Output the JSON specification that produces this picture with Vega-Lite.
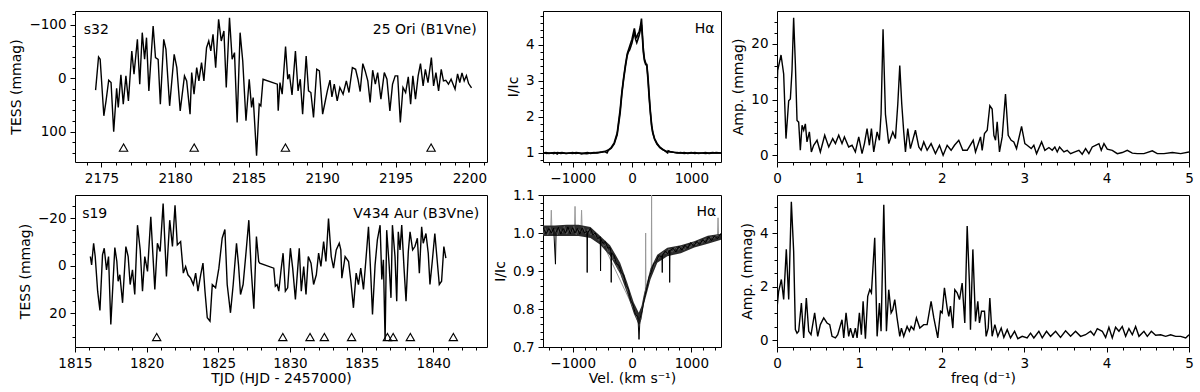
{
"$schema": "https://vega.github.io/schema/vega-lite/v6.json",
"background": "white",
"padding": {"left": 9, "top": 6, "right": 5, "bottom": 5},
"autosize": {"type": "pad"},
"columns": 3,
"spacing": {"row": 33, "column": 56},
"bounds": "flush",
"align": "each",
"config": {
  "font": "DejaVu Sans",
  "view": {"stroke": "black", "strokeWidth": 1},
  "axis": {"domain": false, "grid": false, "tickColor": "black", "tickWidth": 1, "labelColor": "black", "titleColor": "black", "labelFontSize": 13.5, "titleFontSize": 14, "titleFontWeight": "normal", "labelPadding": 4, "labelOverlap": false, "labelFlush": false, "labelBound": false, "titlePadding": 5},
  "axisX": {"titlePadding": 2},
  "text": {"font": "DejaVu Sans", "fontSize": 14, "color": "black"}
},
"datasets": {
  "lc1": [
    {"x":2174.60,"y":22.4},{"x":2174.80,"y":-39.9},{"x":2174.91,"y":-35.5},{"x":2175.16,"y":70.4},{"x":2175.31,"y":42.4},{"x":2175.49,"y":3.7},{"x":2175.65,"y":8.1},{"x":2175.83,"y":100.3},{"x":2176.03,"y":18.7},{"x":2176.14,"y":54.8},{"x":2176.32,"y":-6.2},{"x":2176.48,"y":48.6},{"x":2176.66,"y":-4.4},{"x":2176.83,"y":42.4},{"x":2177.06,"y":-51.1},{"x":2177.21,"y":-7.5},{"x":2177.44,"y":-72.9},{"x":2177.60,"y":11.2},{"x":2177.77,"y":-85.4},{"x":2177.93,"y":-35.5},{"x":2178.06,"y":-76.0},{"x":2178.22,"y":23.7},{"x":2178.51,"y":-97.8},{"x":2178.67,"y":-38.6},{"x":2178.85,"y":-35.5},{"x":2179.00,"y":48.6},{"x":2179.23,"y":-72.9},{"x":2179.38,"y":-54.2},{"x":2179.63,"y":51.7},{"x":2179.94,"y":-44.9},{"x":2180.12,"y":-19.9},{"x":2180.35,"y":61.1},{"x":2180.64,"y":-4.4},{"x":2180.79,"y":5.0},{"x":2181.02,"y":67.3},{"x":2181.13,"y":-10.6},{"x":2181.29,"y":29.9},{"x":2181.47,"y":-19.9},{"x":2181.62,"y":5.0},{"x":2181.80,"y":-29.3},{"x":2181.96,"y":5.0},{"x":2182.14,"y":-57.3},{"x":2182.29,"y":-69.8},{"x":2182.43,"y":-51.1},{"x":2182.58,"y":-82.2},{"x":2182.76,"y":-19.9},{"x":2182.96,"y":-110.3},{"x":2183.14,"y":-69.8},{"x":2183.32,"y":-88.5},{"x":2183.48,"y":17.4},{"x":2183.70,"y":-113.4},{"x":2183.88,"y":-35.5},{"x":2184.04,"y":-48.0},{"x":2184.22,"y":82.9},{"x":2184.42,"y":-85.4},{"x":2184.60,"y":-32.4},{"x":2184.82,"y":79.8},{"x":2185.04,"y":1.9},{"x":2185.20,"y":54.8},{"x":2185.31,"y":36.1},{"x":2185.54,"y":145.2},{"x":2185.72,"y":48.6},{"x":2185.83,"y":51.7},{"x":2185.98,"y":1.9},{"x":2186.95,"y":11.2},{"x":2187.01,"y":61.1},{"x":2187.13,"y":8.1},{"x":2187.28,"y":29.9},{"x":2187.51,"y":-59.2},{"x":2187.66,"y":1.9},{"x":2187.77,"y":-7.5},{"x":2187.95,"y":31.2},{"x":2188.18,"y":-51.1},{"x":2188.36,"y":23.7},{"x":2188.51,"y":1.9},{"x":2188.67,"y":67.3},{"x":2188.91,"y":-41.7},{"x":2189.07,"y":23.7},{"x":2189.23,"y":26.8},{"x":2189.41,"y":73.5},{"x":2189.63,"y":-16.8},{"x":2189.81,"y":-13.7},{"x":2190.03,"y":67.3},{"x":2190.19,"y":45.5},{"x":2190.35,"y":23.7},{"x":2190.53,"y":3.7},{"x":2190.66,"y":34.9},{"x":2190.82,"y":11.2},{"x":2191.02,"y":42.4},{"x":2191.20,"y":17.4},{"x":2191.42,"y":29.9},{"x":2191.64,"y":5.0},{"x":2191.82,"y":26.8},{"x":2192.05,"y":-19.9},{"x":2192.27,"y":-16.8},{"x":2192.43,"y":1.9},{"x":2192.58,"y":24.9},{"x":2192.76,"y":-27.4},{"x":2192.92,"y":-13.7},{"x":2193.10,"y":5.0},{"x":2193.26,"y":45.5},{"x":2193.43,"y":-15.0},{"x":2193.61,"y":11.2},{"x":2193.77,"y":-10.6},{"x":2193.99,"y":39.3},{"x":2194.22,"y":-10.6},{"x":2194.40,"y":1.9},{"x":2194.60,"y":61.1},{"x":2194.78,"y":11.2},{"x":2194.96,"y":-4.4},{"x":2195.13,"y":-4.4},{"x":2195.31,"y":82.9},{"x":2195.49,"y":17.4},{"x":2195.67,"y":26.8},{"x":2195.85,"y":-2.5},{"x":2196.01,"y":48.6},{"x":2196.16,"y":-4.4},{"x":2196.34,"y":39.3},{"x":2196.52,"y":-4.4},{"x":2196.68,"y":-27.4},{"x":2196.86,"y":14.3},{"x":2197.01,"y":-16.8},{"x":2197.19,"y":8.1},{"x":2197.42,"y":-38.6},{"x":2197.57,"y":14.3},{"x":2197.73,"y":-10.6},{"x":2197.91,"y":23.7},{"x":2198.09,"y":-16.8},{"x":2198.24,"y":5.0},{"x":2198.40,"y":3.7},{"x":2198.58,"y":11.2},{"x":2198.76,"y":1.9},{"x":2199.03,"y":20.6},{"x":2199.2,"y":-8},{"x":2199.35,"y":8},{"x":2199.5,"y":-10},{"x":2199.65,"y":5},{"x":2199.8,"y":-5},{"x":2199.95,"y":10},{"x":2200.15,"y":18}
  ],
  "tri1": [{"x":2176.5,"y":130},{"x":2181.3,"y":130},{"x":2187.5,"y":130},{"x":2197.4,"y":130}],
  "lc2": [
    {"x":1816.07,"y":-3.9},{"x":1816.16,"y":-0.4},{"x":1816.30,"y":-9.5},{"x":1816.41,"y":-3.9},{"x":1816.58,"y":10.7},{"x":1816.74,"y":18.8},{"x":1816.92,"y":-4.6},{"x":1817.04,"y":-7.4},{"x":1817.20,"y":1.7},{"x":1817.34,"y":-3.9},{"x":1817.50,"y":24.7},{"x":1817.78,"y":-7.7},{"x":1817.92,"y":-1.8},{"x":1818.01,"y":6.5},{"x":1818.13,"y":3.8},{"x":1818.32,"y":15.6},{"x":1818.55,"y":-8.1},{"x":1818.71,"y":-3.9},{"x":1818.85,"y":7.9},{"x":1819.01,"y":1.7},{"x":1819.17,"y":12.1},{"x":1819.36,"y":-17.1},{"x":1819.55,"y":-6.7},{"x":1819.71,"y":10.7},{"x":1819.87,"y":-3.9},{"x":1820.06,"y":2.4},{"x":1820.29,"y":-20.6},{"x":1820.57,"y":10.0},{"x":1820.75,"y":-9.5},{"x":1820.94,"y":-6.0},{"x":1821.15,"y":-26.2},{"x":1821.38,"y":4.5},{"x":1821.61,"y":-19.2},{"x":1821.80,"y":-8.1},{"x":1821.98,"y":-25.5},{"x":1822.14,"y":-8.8},{"x":1822.37,"y":-10.2},{"x":1822.56,"y":3.1},{"x":1822.72,"y":0.3},{"x":1822.88,"y":3.8},{"x":1823.07,"y":5.2},{"x":1823.26,"y":7.9},{"x":1823.42,"y":3.1},{"x":1823.58,"y":10.7},{"x":1823.77,"y":3.8},{"x":1823.93,"y":-1.1},{"x":1824.07,"y":10.7},{"x":1824.23,"y":21.9},{"x":1824.42,"y":23.3},{"x":1824.58,"y":7.9},{"x":1824.81,"y":9.3},{"x":1825.04,"y":1.0},{"x":1825.27,"y":-11.6},{"x":1825.46,"y":-15.3},{"x":1825.62,"y":7.9},{"x":1825.85,"y":19.8},{"x":1826.04,"y":7.9},{"x":1826.27,"y":-9.5},{"x":1826.41,"y":-0.4},{"x":1826.55,"y":12.1},{"x":1826.73,"y":7.9},{"x":1826.94,"y":-6.0},{"x":1827.13,"y":-19.2},{"x":1827.29,"y":1.0},{"x":1827.48,"y":18.1},{"x":1827.66,"y":-12.3},{"x":1827.82,"y":-1.8},{"x":1827.89,"y":-1.1},{"x":1828.87,"y":1.0},{"x":1828.98,"y":8.6},{"x":1829.10,"y":7.9},{"x":1829.22,"y":10.7},{"x":1829.38,"y":1.7},{"x":1829.52,"y":-5.3},{"x":1829.68,"y":10.7},{"x":1829.84,"y":9.3},{"x":1830.03,"y":-7.4},{"x":1830.19,"y":1.0},{"x":1830.38,"y":14.2},{"x":1830.56,"y":-0.4},{"x":1830.65,"y":-7.4},{"x":1830.79,"y":10.7},{"x":1830.96,"y":0.3},{"x":1831.12,"y":12.1},{"x":1831.28,"y":-3.9},{"x":1831.47,"y":-1.1},{"x":1831.65,"y":7.9},{"x":1831.84,"y":3.8},{"x":1832.00,"y":-5.3},{"x":1832.16,"y":0.3},{"x":1832.35,"y":-10.2},{"x":1832.51,"y":-1.8},{"x":1832.69,"y":-19.9},{"x":1832.88,"y":-3.9},{"x":1833.04,"y":1.0},{"x":1833.23,"y":-6.7},{"x":1833.44,"y":-9.5},{"x":1833.55,"y":-6.7},{"x":1833.62,"y":5.2},{"x":1833.85,"y":-3.9},{"x":1834.09,"y":-1.8},{"x":1834.25,"y":6.5},{"x":1834.43,"y":17.7},{"x":1834.62,"y":3.1},{"x":1834.78,"y":7.9},{"x":1834.94,"y":1.0},{"x":1835.13,"y":10.0},{"x":1835.29,"y":-1.8},{"x":1835.48,"y":-16.4},{"x":1835.64,"y":3.8},{"x":1835.76,"y":20.5},{"x":1835.94,"y":-0.4},{"x":1836.10,"y":-10.9},{"x":1836.29,"y":-17.1},{"x":1836.41,"y":5.8},{"x":1836.52,"y":-2.5},{"x":1836.64,"y":31.6},{"x":1836.75,"y":-15.0},{"x":1836.92,"y":-0.4},{"x":1837.05,"y":13.5},{"x":1837.15,"y":-17.1},{"x":1837.33,"y":-3.9},{"x":1837.45,"y":14.9},{"x":1837.56,"y":-14.3},{"x":1837.68,"y":-6.7},{"x":1837.80,"y":-17.1},{"x":1837.96,"y":1.0},{"x":1838.10,"y":14.9},{"x":1838.26,"y":-6.0},{"x":1838.38,"y":-14.3},{"x":1838.56,"y":-6.7},{"x":1838.72,"y":-8.1},{"x":1838.89,"y":-11.6},{"x":1839.03,"y":3.1},{"x":1839.19,"y":-16.4},{"x":1839.30,"y":-9.5},{"x":1839.49,"y":-13.6},{"x":1839.65,"y":-5.3},{"x":1839.77,"y":7.9},{"x":1839.93,"y":-1.8},{"x":1840.11,"y":-13.6},{"x":1840.28,"y":-1.8},{"x":1840.42,"y":7.9},{"x":1840.58,"y":6.5},{"x":1840.74,"y":-8.1},{"x":1840.88,"y":-3.2}
  ],
  "tri2": [{"x":1820.7,"y":30},{"x":1829.5,"y":30},{"x":1831.4,"y":30},{"x":1832.4,"y":30},{"x":1834.3,"y":30},{"x":1836.8,"y":30},{"x":1837.2,"y":30},{"x":1838.4,"y":30},{"x":1841.4,"y":30}],
  "em": [
    {"s":"a","x":-1500,"y":1.0},{"s":"a","x":-1450,"y":1.01},{"s":"a","x":-1400,"y":0.99},{"s":"a","x":-1350,"y":1.0},{"s":"a","x":-1320,"y":0.98},{"s":"a","x":-1300,"y":1.0},{"s":"a","x":-1250,"y":1.01},{"s":"a","x":-1200,"y":0.99},{"s":"a","x":-1150,"y":1.0},{"s":"a","x":-1100,"y":0.985},{"s":"a","x":-1050,"y":1.0},{"s":"a","x":-1000,"y":1.01},{"s":"a","x":-950,"y":0.99},{"s":"a","x":-900,"y":1.0},{"s":"a","x":-850,"y":0.975},{"s":"a","x":-800,"y":1.0},{"s":"a","x":-750,"y":1.01},{"s":"a","x":-700,"y":0.99},{"s":"a","x":-650,"y":1.0},{"s":"a","x":-600,"y":1.01},{"s":"a","x":-550,"y":1.02},{"s":"a","x":-500,"y":1.03},{"s":"a","x":-450,"y":1.05},{"s":"a","x":-400,"y":1.08},{"s":"a","x":-350,"y":1.15},{"s":"a","x":-300,"y":1.28},{"s":"a","x":-250,"y":1.55},{"s":"a","x":-200,"y":2.2},{"s":"a","x":-170,"y":2.7},{"s":"a","x":-140,"y":3.1},{"s":"a","x":-110,"y":3.45},{"s":"a","x":-80,"y":3.75},{"s":"a","x":-50,"y":3.9},{"s":"a","x":-20,"y":4.05},{"s":"a","x":0,"y":4.15},{"s":"a","x":20,"y":4.3},{"s":"a","x":40,"y":4.45},{"s":"a","x":60,"y":4.25},{"s":"a","x":80,"y":4.2},{"s":"a","x":100,"y":4.3},{"s":"a","x":120,"y":4.35},{"s":"a","x":140,"y":4.5},{"s":"a","x":160,"y":4.72},{"s":"a","x":175,"y":4.3},{"s":"a","x":190,"y":3.9},{"s":"a","x":210,"y":3.6},{"s":"a","x":230,"y":3.5},{"s":"a","x":250,"y":3.4},{"s":"a","x":270,"y":3.0},{"s":"a","x":290,"y":2.5},{"s":"a","x":310,"y":2.1},{"s":"a","x":330,"y":1.75},{"s":"a","x":350,"y":1.55},{"s":"a","x":380,"y":1.38},{"s":"a","x":420,"y":1.25},{"s":"a","x":470,"y":1.15},{"s":"a","x":520,"y":1.09},{"s":"a","x":580,"y":1.05},{"s":"a","x":640,"y":1.03},{"s":"a","x":700,"y":1.02},{"s":"a","x":760,"y":1.0},{"s":"a","x":820,"y":1.01},{"s":"a","x":880,"y":0.99},{"s":"a","x":940,"y":1.0},{"s":"a","x":1000,"y":1.01},{"s":"a","x":1060,"y":0.99},{"s":"a","x":1120,"y":1.0},{"s":"a","x":1180,"y":1.0},{"s":"a","x":1240,"y":0.99},{"s":"a","x":1300,"y":1.0},{"s":"a","x":1360,"y":1.01},{"s":"a","x":1420,"y":1.0},{"s":"a","x":1500,"y":1.0},
    {"s":"b","x":-1500,"y":1.01},{"s":"b","x":-1440,"y":0.99},{"s":"b","x":-1380,"y":1.0},{"s":"b","x":-1300,"y":1.01},{"s":"b","x":-1260,"y":0.97},{"s":"b","x":-1240,"y":1.0},{"s":"b","x":-1180,"y":1.01},{"s":"b","x":-1120,"y":0.99},{"s":"b","x":-1060,"y":1.0},{"s":"b","x":-1000,"y":0.99},{"s":"b","x":-940,"y":1.01},{"s":"b","x":-880,"y":1.0},{"s":"b","x":-820,"y":0.99},{"s":"b","x":-760,"y":0.98},{"s":"b","x":-700,"y":1.0},{"s":"b","x":-640,"y":1.01},{"s":"b","x":-580,"y":1.0},{"s":"b","x":-520,"y":1.02},{"s":"b","x":-460,"y":1.04},{"s":"b","x":-420,"y":1.0},{"s":"b","x":-400,"y":1.07},{"s":"b","x":-350,"y":1.13},{"s":"b","x":-300,"y":1.25},{"s":"b","x":-250,"y":1.5},{"s":"b","x":-200,"y":2.1},{"s":"b","x":-170,"y":2.65},{"s":"b","x":-140,"y":3.05},{"s":"b","x":-110,"y":3.4},{"s":"b","x":-80,"y":3.7},{"s":"b","x":-60,"y":3.8},{"s":"b","x":-40,"y":3.85},{"s":"b","x":-20,"y":3.95},{"s":"b","x":0,"y":4.05},{"s":"b","x":20,"y":4.2},{"s":"b","x":40,"y":4.35},{"s":"b","x":60,"y":4.15},{"s":"b","x":80,"y":4.05},{"s":"b","x":100,"y":4.15},{"s":"b","x":120,"y":4.25},{"s":"b","x":140,"y":4.4},{"s":"b","x":160,"y":4.55},{"s":"b","x":175,"y":4.2},{"s":"b","x":190,"y":3.8},{"s":"b","x":210,"y":3.55},{"s":"b","x":230,"y":3.45},{"s":"b","x":250,"y":3.45},{"s":"b","x":270,"y":3.1},{"s":"b","x":290,"y":2.6},{"s":"b","x":310,"y":2.15},{"s":"b","x":330,"y":1.8},{"s":"b","x":350,"y":1.58},{"s":"b","x":380,"y":1.4},{"s":"b","x":420,"y":1.27},{"s":"b","x":470,"y":1.16},{"s":"b","x":520,"y":1.1},{"s":"b","x":600,"y":1.0},{"s":"b","x":610,"y":1.06},{"s":"b","x":640,"y":1.04},{"s":"b","x":700,"y":1.02},{"s":"b","x":760,"y":1.01},{"s":"b","x":820,"y":1.0},{"s":"b","x":880,"y":1.01},{"s":"b","x":940,"y":0.99},{"s":"b","x":1000,"y":1.0},{"s":"b","x":1060,"y":1.01},{"s":"b","x":1120,"y":0.99},{"s":"b","x":1180,"y":1.0},{"s":"b","x":1240,"y":1.01},{"s":"b","x":1300,"y":0.99},{"s":"b","x":1360,"y":1.0},{"s":"b","x":1420,"y":1.01},{"s":"b","x":1500,"y":1.0}
  ],
  "absband": [
    {"x":-1500,"lo":0.992,"hi":1.02},{"x":-1300,"lo":0.992,"hi":1.02},{"x":-1100,"lo":0.992,"hi":1.022},{"x":-900,"lo":0.992,"hi":1.022},{"x":-700,"lo":0.987,"hi":1.016},{"x":-540,"lo":0.97,"hi":0.993},{"x":-370,"lo":0.94,"hi":0.968},{"x":-200,"lo":0.893,"hi":0.922},{"x":-85,"lo":0.843,"hi":0.872},{"x":30,"lo":0.788,"hi":0.817},{"x":114,"lo":0.758,"hi":0.79},{"x":160,"lo":0.773,"hi":0.807},{"x":200,"lo":0.812,"hi":0.838},{"x":313,"lo":0.878,"hi":0.907},{"x":426,"lo":0.922,"hi":0.943},{"x":596,"lo":0.939,"hi":0.961},{"x":823,"lo":0.947,"hi":0.968},{"x":1050,"lo":0.962,"hi":0.978},{"x":1277,"lo":0.972,"hi":0.993},{"x":1500,"lo":0.982,"hi":0.998}
  ],
  "absg": [
    {"x":-1500,"y":1.0},{"x":-1370,"y":1.01},{"x":-1360,"y":1.06},{"x":-1350,"y":1.01},{"x":-970,"y":1.01},{"x":-960,"y":1.07},{"x":-950,"y":1.01},{"x":-860,"y":1.01},{"x":-850,"y":1.06},{"x":-840,"y":1.01},{"x":-500,"y":0.975},{"x":0,"y":0.81},{"x":100,"y":0.775},{"x":200,"y":0.82},{"x":225,"y":0.84},{"x":230,"y":1.0},{"x":235,"y":0.85},{"x":325,"y":0.895},{"x":330,"y":1.1},{"x":335,"y":0.9},{"x":420,"y":0.93},{"x":800,"y":0.955},{"x":1440,"y":0.99},{"x":1450,"y":1.04},{"x":1460,"y":0.99},{"x":1500,"y":0.995}
  ],
  "absb": [
    {"x":-1500,"y":0.995},{"x":-1460,"y":1.012},{"x":-1420,"y":0.995},{"x":-1380,"y":1.015},{"x":-1340,"y":0.998},{"x":-1300,"y":1.01},{"x":-1260,"y":0.995},{"x":-1220,"y":1.012},{"x":-1180,"y":1.0},{"x":-1140,"y":1.018},{"x":-1100,"y":0.997},{"x":-1060,"y":1.01},{"x":-1020,"y":1.0},{"x":-980,"y":1.018},{"x":-940,"y":0.995},{"x":-900,"y":1.01},{"x":-860,"y":1.002},{"x":-820,"y":1.015},{"x":-780,"y":0.998},{"x":-740,"y":1.01},{"x":-700,"y":0.995},{"x":-650,"y":1.0},{"x":-600,"y":0.99},{"x":-560,"y":0.98},{"x":-520,"y":0.985},{"x":-480,"y":0.965},{"x":-440,"y":0.97},{"x":-400,"y":0.95},{"x":-360,"y":0.955},{"x":-320,"y":0.93},{"x":-280,"y":0.93},{"x":-240,"y":0.905},{"x":-200,"y":0.905},{"x":-160,"y":0.882},{"x":-120,"y":0.875},{"x":-80,"y":0.85},{"x":-40,"y":0.84},{"x":0,"y":0.808},{"x":40,"y":0.8},{"x":80,"y":0.775},{"x":100,"y":0.77},{"x":130,"y":0.762},{"x":150,"y":0.78},{"x":190,"y":0.815},{"x":230,"y":0.85},{"x":270,"y":0.87},{"x":310,"y":0.895},{"x":350,"y":0.905},{"x":390,"y":0.925},{"x":430,"y":0.93},{"x":470,"y":0.94},{"x":530,"y":0.95},{"x":580,"y":0.945},{"x":620,"y":0.958},{"x":680,"y":0.95},{"x":730,"y":0.962},{"x":780,"y":0.955},{"x":830,"y":0.965},{"x":880,"y":0.955},{"x":930,"y":0.968},{"x":980,"y":0.962},{"x":1030,"y":0.975},{"x":1080,"y":0.968},{"x":1130,"y":0.98},{"x":1180,"y":0.972},{"x":1230,"y":0.985},{"x":1280,"y":0.978},{"x":1330,"y":0.99},{"x":1380,"y":0.985},{"x":1430,"y":0.995},{"x":1470,"y":0.99},{"x":1500,"y":1.0}
  ],
  "absa": [
    {"x":-1500,"y":1.015},{"x":-1450,"y":0.998},{"x":-1400,"y":1.012},{"x":-1360,"y":1.0},{"x":-1320,"y":1.013},{"x":-1290,"y":0.918},{"x":-1280,"y":1.002},{"x":-1240,"y":1.015},{"x":-1200,"y":0.997},{"x":-1160,"y":1.012},{"x":-1120,"y":1.0},{"x":-1080,"y":1.016},{"x":-1040,"y":0.998},{"x":-1000,"y":1.014},{"x":-960,"y":1.0},{"x":-920,"y":1.012},{"x":-880,"y":0.997},{"x":-840,"y":1.013},{"x":-800,"y":1.0},{"x":-760,"y":1.005},{"x":-755,"y":0.896},{"x":-750,"y":1.0},{"x":-700,"y":1.012},{"x":-660,"y":0.995},{"x":-620,"y":1.0},{"x":-580,"y":0.985},{"x":-535,"y":0.99},{"x":-530,"y":0.9},{"x":-525,"y":0.985},{"x":-490,"y":0.972},{"x":-450,"y":0.978},{"x":-410,"y":0.96},{"x":-370,"y":0.962},{"x":-355,"y":0.95},{"x":-350,"y":0.87},{"x":-345,"y":0.948},{"x":-300,"y":0.94},{"x":-260,"y":0.918},{"x":-220,"y":0.915},{"x":-180,"y":0.895},{"x":-140,"y":0.89},{"x":-100,"y":0.862},{"x":-60,"y":0.852},{"x":-20,"y":0.822},{"x":20,"y":0.81},{"x":60,"y":0.785},{"x":100,"y":0.78},{"x":118,"y":0.72},{"x":135,"y":0.775},{"x":170,"y":0.795},{"x":210,"y":0.83},{"x":250,"y":0.855},{"x":290,"y":0.885},{"x":330,"y":0.9},{"x":370,"y":0.92},{"x":410,"y":0.925},{"x":450,"y":0.94},{"x":505,"y":0.938},{"x":510,"y":0.896},{"x":515,"y":0.942},{"x":560,"y":0.952},{"x":600,"y":0.945},{"x":630,"y":0.955},{"x":635,"y":0.87},{"x":640,"y":0.952},{"x":690,"y":0.96},{"x":740,"y":0.95},{"x":790,"y":0.965},{"x":840,"y":0.955},{"x":890,"y":0.968},{"x":940,"y":0.96},{"x":990,"y":0.975},{"x":1040,"y":0.965},{"x":1090,"y":0.978},{"x":1140,"y":0.97},{"x":1190,"y":0.982},{"x":1240,"y":0.975},{"x":1290,"y":0.99},{"x":1340,"y":0.98},{"x":1390,"y":0.992},{"x":1440,"y":0.985},{"x":1500,"y":0.998}
  ],
  "pg1": [
    {"x":0.0,"y":11},{"x":0.008,"y":15.2},{"x":0.049,"y":18.0},{"x":0.081,"y":14.6},{"x":0.109,"y":3.0},{"x":0.142,"y":9.8},{"x":0.162,"y":10.1},{"x":0.182,"y":15.2},{"x":0.202,"y":24.7},{"x":0.223,"y":16.4},{"x":0.243,"y":6.25},{"x":0.263,"y":5.95},{"x":0.283,"y":0.9},{"x":0.304,"y":5.4},{"x":0.324,"y":4.5},{"x":0.344,"y":5.65},{"x":0.364,"y":2.4},{"x":0.393,"y":4.2},{"x":0.417,"y":0.6},{"x":0.445,"y":1.8},{"x":0.486,"y":2.7},{"x":0.526,"y":0.6},{"x":0.579,"y":3.6},{"x":0.628,"y":1.5},{"x":0.676,"y":3.0},{"x":0.709,"y":2.1},{"x":0.749,"y":3.6},{"x":0.789,"y":2.1},{"x":0.818,"y":3.3},{"x":0.870,"y":1.5},{"x":0.911,"y":1.8},{"x":0.951,"y":0.6},{"x":0.992,"y":3.3},{"x":1.032,"y":0.3},{"x":1.061,"y":2.1},{"x":1.093,"y":4.8},{"x":1.121,"y":1.8},{"x":1.146,"y":4.8},{"x":1.174,"y":0.6},{"x":1.215,"y":4.2},{"x":1.243,"y":2.7},{"x":1.263,"y":7.4},{"x":1.287,"y":22.6},{"x":1.316,"y":7.4},{"x":1.356,"y":2.1},{"x":1.405,"y":4.2},{"x":1.437,"y":3.0},{"x":1.466,"y":9.2},{"x":1.490,"y":16.1},{"x":1.514,"y":9.2},{"x":1.538,"y":4.2},{"x":1.559,"y":0.6},{"x":1.587,"y":4.8},{"x":1.619,"y":1.2},{"x":1.680,"y":4.5},{"x":1.721,"y":1.5},{"x":1.749,"y":0.9},{"x":1.781,"y":2.4},{"x":1.822,"y":0.9},{"x":1.870,"y":2.1},{"x":1.923,"y":0.3},{"x":1.972,"y":1.8},{"x":2.016,"y":0.0},{"x":2.065,"y":1.8},{"x":2.113,"y":0.9},{"x":2.154,"y":1.8},{"x":2.206,"y":2.7},{"x":2.255,"y":0.9},{"x":2.308,"y":0.9},{"x":2.381,"y":2.7},{"x":2.409,"y":0.6},{"x":2.470,"y":3.3},{"x":2.490,"y":0.9},{"x":2.518,"y":3.9},{"x":2.551,"y":4.5},{"x":2.583,"y":8.9},{"x":2.611,"y":8.3},{"x":2.632,"y":3.6},{"x":2.652,"y":2.7},{"x":2.672,"y":6.0},{"x":2.700,"y":0.6},{"x":2.733,"y":3.3},{"x":2.773,"y":11.0},{"x":2.806,"y":3.6},{"x":2.842,"y":2.7},{"x":2.874,"y":2.4},{"x":2.907,"y":1.2},{"x":2.968,"y":5.2},{"x":3.008,"y":2.1},{"x":3.036,"y":1.8},{"x":3.085,"y":1.2},{"x":3.117,"y":1.8},{"x":3.150,"y":0.3},{"x":3.211,"y":2.4},{"x":3.251,"y":0.9},{"x":3.300,"y":1.4},{"x":3.340,"y":0.9},{"x":3.372,"y":1.5},{"x":3.401,"y":0.6},{"x":3.429,"y":1.5},{"x":3.482,"y":0.6},{"x":3.522,"y":0.9},{"x":3.563,"y":0.3},{"x":3.615,"y":0.6},{"x":3.664,"y":0.9},{"x":3.704,"y":0.2},{"x":3.745,"y":1.2},{"x":3.785,"y":0.3},{"x":3.826,"y":1.5},{"x":3.866,"y":1.8},{"x":3.907,"y":2.1},{"x":3.935,"y":0.9},{"x":3.968,"y":2.1},{"x":4.008,"y":1.1},{"x":4.069,"y":0.9},{"x":4.130,"y":0.3},{"x":4.190,"y":0.5},{"x":4.251,"y":0.9},{"x":4.312,"y":0.4},{"x":4.372,"y":0.3},{"x":4.453,"y":0.3},{"x":4.555,"y":0.8},{"x":4.615,"y":0.3},{"x":4.696,"y":0.3},{"x":4.798,"y":0.5},{"x":4.899,"y":0.3},{"x":5.0,"y":0.6}
  ],
  "pg2": [
    {"x":0.000,"y":1.20},{"x":0.020,"y":1.83},{"x":0.053,"y":2.27},{"x":0.081,"y":1.52},{"x":0.113,"y":3.40},{"x":0.142,"y":1.52},{"x":0.174,"y":5.19},{"x":0.202,"y":3.34},{"x":0.223,"y":0.39},{"x":0.243,"y":0.26},{"x":0.263,"y":0.33},{"x":0.296,"y":1.39},{"x":0.324,"y":0.08},{"x":0.356,"y":1.58},{"x":0.385,"y":0.33},{"x":0.413,"y":0.20},{"x":0.457,"y":1.02},{"x":0.494,"y":0.14},{"x":0.526,"y":0.58},{"x":0.567,"y":0.83},{"x":0.607,"y":0.64},{"x":0.640,"y":0.58},{"x":0.668,"y":0.14},{"x":0.709,"y":0.08},{"x":0.737,"y":0.20},{"x":0.789,"y":0.76},{"x":0.810,"y":0.08},{"x":0.838,"y":1.02},{"x":0.870,"y":0.14},{"x":0.891,"y":0.45},{"x":0.923,"y":0.08},{"x":0.951,"y":0.45},{"x":0.972,"y":0.08},{"x":1.000,"y":1.02},{"x":1.024,"y":0.20},{"x":1.045,"y":1.45},{"x":1.073,"y":0.05},{"x":1.101,"y":1.64},{"x":1.126,"y":1.89},{"x":1.146,"y":1.77},{"x":1.186,"y":3.84},{"x":1.215,"y":0.14},{"x":1.243,"y":1.39},{"x":1.263,"y":0.33},{"x":1.296,"y":5.07},{"x":1.328,"y":0.33},{"x":1.356,"y":1.89},{"x":1.385,"y":1.02},{"x":1.405,"y":1.14},{"x":1.429,"y":1.52},{"x":1.457,"y":0.83},{"x":1.490,"y":0.14},{"x":1.510,"y":0.45},{"x":1.538,"y":0.14},{"x":1.579,"y":0.51},{"x":1.607,"y":0.33},{"x":1.628,"y":0.51},{"x":1.660,"y":0.39},{"x":1.692,"y":0.83},{"x":1.733,"y":0.45},{"x":1.781,"y":0.58},{"x":1.822,"y":0.58},{"x":1.870,"y":1.45},{"x":1.903,"y":0.83},{"x":1.951,"y":0.08},{"x":1.984,"y":1.08},{"x":2.004,"y":1.02},{"x":2.032,"y":1.96},{"x":2.065,"y":1.20},{"x":2.085,"y":0.89},{"x":2.105,"y":1.27},{"x":2.134,"y":0.45},{"x":2.158,"y":1.89},{"x":2.186,"y":1.77},{"x":2.215,"y":1.52},{"x":2.247,"y":2.14},{"x":2.279,"y":0.64},{"x":2.308,"y":4.28},{"x":2.336,"y":2.08},{"x":2.348,"y":0.39},{"x":2.377,"y":3.40},{"x":2.409,"y":0.70},{"x":2.437,"y":1.45},{"x":2.457,"y":0.64},{"x":2.482,"y":1.08},{"x":2.518,"y":1.08},{"x":2.538,"y":0.14},{"x":2.563,"y":0.45},{"x":2.583,"y":1.58},{"x":2.611,"y":0.14},{"x":2.644,"y":0.58},{"x":2.680,"y":0.14},{"x":2.721,"y":0.45},{"x":2.753,"y":0.10},{"x":2.794,"y":0.39},{"x":2.834,"y":0.08},{"x":2.883,"y":0.33},{"x":2.923,"y":0.05},{"x":2.976,"y":0.14},{"x":3.036,"y":0.08},{"x":3.077,"y":0.26},{"x":3.117,"y":0.08},{"x":3.178,"y":0.33},{"x":3.219,"y":0.08},{"x":3.271,"y":0.33},{"x":3.320,"y":0.14},{"x":3.381,"y":0.33},{"x":3.441,"y":0.10},{"x":3.502,"y":0.35},{"x":3.563,"y":0.14},{"x":3.623,"y":0.33},{"x":3.684,"y":0.14},{"x":3.745,"y":0.20},{"x":3.806,"y":0.33},{"x":3.846,"y":0.18},{"x":3.887,"y":0.43},{"x":3.947,"y":0.33},{"x":3.988,"y":0.10},{"x":4.028,"y":0.48},{"x":4.069,"y":0.08},{"x":4.109,"y":0.48},{"x":4.150,"y":0.33},{"x":4.190,"y":0.51},{"x":4.231,"y":0.14},{"x":4.271,"y":0.43},{"x":4.312,"y":0.20},{"x":4.352,"y":0.51},{"x":4.393,"y":0.14},{"x":4.453,"y":0.33},{"x":4.494,"y":0.14},{"x":4.543,"y":0.33},{"x":4.595,"y":0.18},{"x":4.656,"y":0.20},{"x":4.717,"y":0.14},{"x":4.777,"y":0.20},{"x":4.838,"y":0.14},{"x":4.899,"y":0.14},{"x":4.960,"y":0.08},{"x":5.000,"y":0.20}
  ]
},
"concat": [
  {
    "width": 412, "height": 151,
    "encoding": {
      "x": {"field": "x", "type": "quantitative", "scale": {"domain": [2173.2, 2201.2], "nice": false, "zero": false},
        "axis": {"title": null, "values": [2174,2175,2176,2177,2178,2179,2180,2181,2182,2183,2184,2185,2186,2187,2188,2189,2190,2191,2192,2193,2194,2195,2196,2197,2198,2199,2200,2201],
          "labelExpr": "datum.value % 5 === 0 ? format(datum.value, 'd') : ''",
          "tickSize": {"condition": {"test": "datum.value % 5 === 0", "value": 5}, "value": 3}}},
      "y": {"field": "y", "type": "quantitative", "scale": {"domain": [-126, 157], "reverse": true, "nice": false, "zero": false},
        "axis": {"title": "TESS (mmag)", "values": [-120,-100,-80,-60,-40,-20,0,20,40,60,80,100,120,140],
          "labelExpr": "datum.value % 100 === 0 ? replace(format(datum.value, 'd'), '-', '\u2212') : ''",
          "tickSize": {"condition": {"test": "datum.value % 100 === 0", "value": 5}, "value": 3}}}
    },
    "layer": [
      {"data": {"name": "lc1"}, "mark": {"type": "line", "color": "black", "strokeWidth": 1.4, "clip": true}, "encoding": {}},
      {"data": {"name": "tri1"}, "mark": {"type": "point", "shape": "triangle-up", "filled": false, "color": "black", "size": 70, "strokeWidth": 1.1, "opacity": 1}},
      {"data": {"values": [{"x": 2173.8, "y": -91, "label": "s32"}]}, "mark": {"type": "text", "align": "left", "baseline": "middle"}, "encoding": {"text": {"field": "label"}}},
      {"data": {"values": [{"x": 2200.5, "y": -91, "label": "25 Ori (B1Vne)"}]}, "mark": {"type": "text", "align": "right", "baseline": "middle"}, "encoding": {"text": {"field": "label"}}}
    ]
  },
  {
    "width": 178, "height": 151,
    "encoding": {
      "x": {"field": "x", "type": "quantitative", "scale": {"domain": [-1500, 1500], "nice": false, "zero": false},
        "axis": {"title": null, "values": [-1400,-1200,-1000,-800,-600,-400,-200,0,200,400,600,800,1000,1200,1400],
          "labelExpr": "datum.value % 1000 === 0 ? replace(format(datum.value, 'd'), '-', '\u2212') : ''",
          "tickSize": {"condition": {"test": "datum.value % 1000 === 0", "value": 5}, "value": 3}}},
      "y": {"field": "y", "type": "quantitative", "scale": {"domain": [0.75, 4.93], "nice": false, "zero": false},
        "axis": {"title": "I/Ic", "values": [0.8,1.0,1.2,1.4,1.6,1.8,2.0,2.2,2.4,2.6,2.8,3.0,3.2,3.4,3.6,3.8,4.0,4.2,4.4,4.6,4.8],
          "labelExpr": "abs(datum.value - round(datum.value)) < 1e-6 ? format(datum.value, 'd') : ''",
          "tickSize": {"condition": {"test": "abs(datum.value - round(datum.value)) < 1e-6", "value": 5}, "value": 3}}}
    },
    "layer": [
      {"data": {"name": "em"}, "mark": {"type": "line", "color": "black", "strokeWidth": 1.6, "clip": true}, "encoding": {"detail": {"field": "s"}}},
      {"data": {"values": [{"x": 1390, "y": 4.42, "label": "Hα"}]}, "mark": {"type": "text", "align": "right", "baseline": "middle"}, "encoding": {"text": {"field": "label"}}}
    ]
  },
  {
    "width": 412, "height": 151,
    "encoding": {
      "x": {"field": "x", "type": "quantitative", "scale": {"domain": [0, 5], "nice": false, "zero": false},
        "axis": {"title": null, "values": [0,0.2,0.4,0.6,0.8,1,1.2,1.4,1.6,1.8,2,2.2,2.4,2.6,2.8,3,3.2,3.4,3.6,3.8,4,4.2,4.4,4.6,4.8,5],
          "labelExpr": "abs(datum.value - round(datum.value)) < 1e-6 ? format(datum.value, 'd') : ''",
          "tickSize": {"condition": {"test": "abs(datum.value - round(datum.value)) < 1e-6", "value": 5}, "value": 3}}},
      "y": {"field": "y", "type": "quantitative", "scale": {"domain": [-1.2, 25.9], "nice": false, "zero": false},
        "axis": {"title": "Amp. (mmag)", "values": [0,2,4,6,8,10,12,14,16,18,20,22,24],
          "labelExpr": "datum.value % 10 === 0 ? format(datum.value, 'd') : ''",
          "tickSize": {"condition": {"test": "datum.value % 10 === 0", "value": 5}, "value": 3}}}
    },
    "layer": [
      {"data": {"name": "pg1"}, "mark": {"type": "line", "color": "black", "strokeWidth": 1.4, "clip": true}, "encoding": {}}
    ]
  },
  {
    "width": 412, "height": 152,
    "encoding": {
      "x": {"field": "x", "type": "quantitative", "scale": {"domain": [1815, 1843.75], "nice": false, "zero": false},
        "axis": {"title": "TJD (HJD - 2457000)", "values": [1815,1816,1817,1818,1819,1820,1821,1822,1823,1824,1825,1826,1827,1828,1829,1830,1831,1832,1833,1834,1835,1836,1837,1838,1839,1840,1841,1842,1843],
          "labelExpr": "datum.value % 5 === 0 ? format(datum.value, 'd') : ''",
          "tickSize": {"condition": {"test": "datum.value % 5 === 0", "value": 5}, "value": 3}}},
      "y": {"field": "y", "type": "quantitative", "scale": {"domain": [-29.8, 34.2], "reverse": true, "nice": false, "zero": false},
        "axis": {"title": "TESS (mmag)", "values": [-25,-20,-15,-10,-5,0,5,10,15,20,25,30],
          "labelExpr": "datum.value % 20 === 0 ? replace(format(datum.value, 'd'), '-', '\u2212') : ''",
          "tickSize": {"condition": {"test": "datum.value % 20 === 0", "value": 5}, "value": 3}}}
    },
    "layer": [
      {"data": {"name": "lc2"}, "mark": {"type": "line", "color": "black", "strokeWidth": 1.4, "clip": true}, "encoding": {}},
      {"data": {"name": "tri2"}, "mark": {"type": "point", "shape": "triangle-up", "filled": false, "color": "black", "size": 70, "strokeWidth": 1.1, "opacity": 1}},
      {"data": {"values": [{"x": 1815.5, "y": -21.6, "label": "s19"}]}, "mark": {"type": "text", "align": "left", "baseline": "middle"}, "encoding": {"text": {"field": "label"}}},
      {"data": {"values": [{"x": 1843.2, "y": -21.6, "label": "V434 Aur (B3Vne)"}]}, "mark": {"type": "text", "align": "right", "baseline": "middle"}, "encoding": {"text": {"field": "label"}}}
    ]
  },
  {
    "width": 178, "height": 152,
    "encoding": {
      "x": {"field": "x", "type": "quantitative", "scale": {"domain": [-1500, 1500], "nice": false, "zero": false},
        "axis": {"title": "Vel. (km s\u207b\u00b9)", "values": [-1400,-1200,-1000,-800,-600,-400,-200,0,200,400,600,800,1000,1200,1400],
          "labelExpr": "datum.value % 1000 === 0 ? replace(format(datum.value, 'd'), '-', '\u2212') : ''",
          "tickSize": {"condition": {"test": "datum.value % 1000 === 0", "value": 5}, "value": 3}}},
      "y": {"field": "y", "type": "quantitative", "scale": {"domain": [0.7, 1.1], "nice": false, "zero": false},
        "axis": {"title": "I/Ic", "values": [0.7,0.72,0.74,0.76,0.78,0.8,0.82,0.84,0.86,0.88,0.9,0.92,0.94,0.96,0.98,1.0,1.02,1.04,1.06,1.08,1.1],
          "labelExpr": "abs(datum.value*10 - round(datum.value*10)) < 1e-6 ? format(datum.value, '.1f') : ''",
          "tickSize": {"condition": {"test": "abs(datum.value*10 - round(datum.value*10)) < 1e-6", "value": 5}, "value": 3}}}
    },
    "layer": [
      {"data": {"name": "absg"}, "mark": {"type": "line", "color": "#999999", "strokeWidth": 1, "clip": true}, "encoding": {}},
      {"data": {"name": "absband"}, "mark": {"type": "area", "color": "#2b2b2b", "opacity": 1, "clip": true}, "encoding": {"y": {"field": "lo", "type": "quantitative"}, "y2": {"field": "hi"}}},
      {"data": {"name": "absb"}, "mark": {"type": "line", "color": "#555555", "strokeWidth": 1, "clip": true}, "encoding": {}},
      {"data": {"name": "absa"}, "mark": {"type": "line", "color": "black", "strokeWidth": 1, "clip": true}, "encoding": {}},
      {"data": {"values": [{"x": 1420, "y": 1.054, "label": "Hα"}]}, "mark": {"type": "text", "align": "right", "baseline": "middle"}, "encoding": {"text": {"field": "label"}}}
    ]
  },
  {
    "width": 412, "height": 152,
    "encoding": {
      "x": {"field": "x", "type": "quantitative", "scale": {"domain": [0, 5], "nice": false, "zero": false},
        "axis": {"title": "freq (d\u207b\u00b9)", "values": [0,0.2,0.4,0.6,0.8,1,1.2,1.4,1.6,1.8,2,2.2,2.4,2.6,2.8,3,3.2,3.4,3.6,3.8,4,4.2,4.4,4.6,4.8,5],
          "labelExpr": "abs(datum.value - round(datum.value)) < 1e-6 ? format(datum.value, 'd') : ''",
          "tickSize": {"condition": {"test": "abs(datum.value - round(datum.value)) < 1e-6", "value": 5}, "value": 3}}},
      "y": {"field": "y", "type": "quantitative", "scale": {"domain": [-0.26, 5.44], "nice": false, "zero": false},
        "axis": {"title": "Amp. (mmag)", "values": [0,0.5,1,1.5,2,2.5,3,3.5,4,4.5,5],
          "labelExpr": "datum.value % 2 === 0 ? format(datum.value, 'd') : ''",
          "tickSize": {"condition": {"test": "datum.value % 2 === 0", "value": 5}, "value": 3}}}
    },
    "layer": [
      {"data": {"name": "pg2"}, "mark": {"type": "line", "color": "black", "strokeWidth": 1.4, "clip": true}, "encoding": {}}
    ]
  }
]
}
